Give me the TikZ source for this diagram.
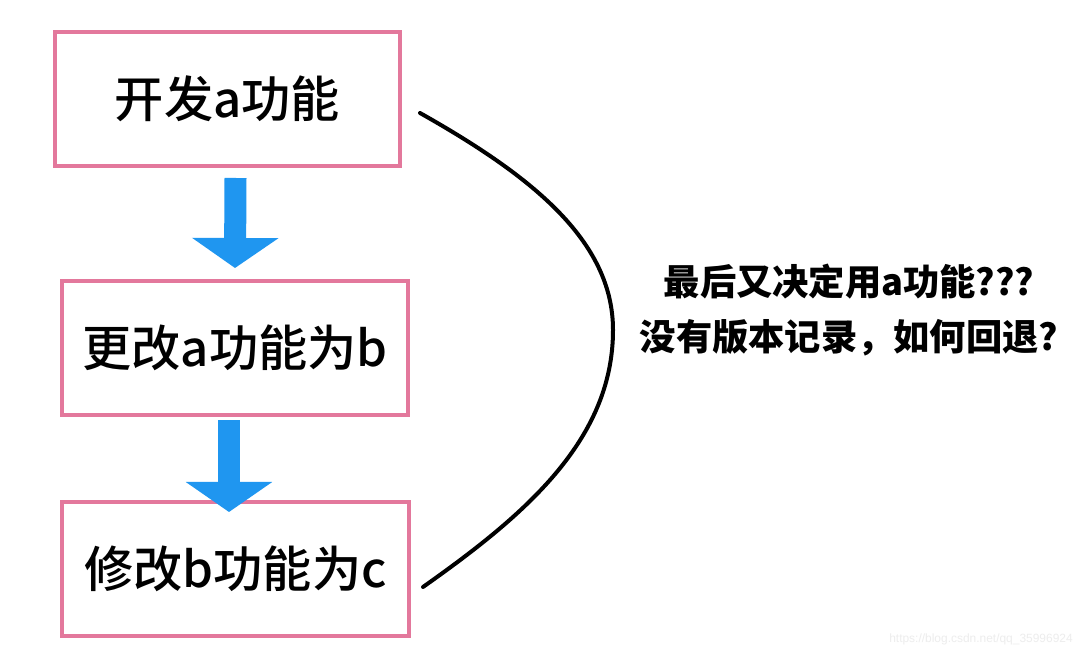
\documentclass[tikz,border=0pt]{standalone}
\usepackage{fontspec}
\setmainfont{Noto Sans CJK SC}
\newfontfamily\boxfont{Noto Sans CJK SC Medium}
\newfontfamily\markfont{Liberation Sans}
\usetikzlibrary{arrows.meta,calc}
\newlength{\du}
\setlength{\du}{0.025cm}

\begin{document}
\begin{tikzpicture}[
  stepbox/.style={draw=boxlinecolor, line width=4.000000\du, fill=white, inner sep=0pt,
    minimum width=345.000000\du, minimum height=134.000000\du, font=\boxfont\fontsize{35}{40}\selectfont},
  downarrow/.style={draw=arrowfillcolor, line width=22.000000\du,
    -{Triangle[width=2.125cm,length=0.75cm]}},
  backcurve/.style={draw=dialinecolor, line width=4.000000\du, line cap=round}]
\pgftransformxscale{1.000000}
\pgftransformyscale{-1.000000}
\definecolor{dialinecolor}{rgb}{0.000000, 0.000000, 0.000000}
\definecolor{boxlinecolor}{rgb}{0.890000, 0.470000, 0.610000}
\definecolor{arrowfillcolor}{rgb}{0.120000, 0.590000, 0.940000}
\definecolor{marktextcolor}{rgb}{0.930000, 0.930000, 0.930000}
\useasboundingbox (0.000000\du,0.000000\du) rectangle (1084.000000\du,655.000000\du);
\fill[white] (0.000000\du,0.000000\du) rectangle (1084.000000\du,655.000000\du);
% the three steps
\node[stepbox] (dev) at (227.500000\du,99.000000\du) {开发a功能};
\node[stepbox, minimum width=346.000000\du] (change) at (235.000000\du,348.000000\du) {更改a功能为b};
\node[stepbox, minimum width=347.000000\du] (modify) at (235.500000\du,569.000000\du) {修改b功能为c};
% blue arrows
\draw[downarrow] ($(dev.south)+(8.000000\du,10.000000\du)$)--($(change.north)+(0.000000\du,-11.000000\du)$);
\draw[downarrow] ($(change.south)+(-6.000000\du,3.000000\du)$)--($(modify.north)+(-6.500000\du,12.000000\du)$);
% curve back to the first step
\coordinate (curvetop) at ($(dev.east)+(18.000000\du,14.000000\du)$);
\coordinate (curvebottom) at ($(modify.east)+(12.000000\du,18.000000\du)$);
\draw[backcurve] (curvetop) .. controls (530.000000\du,175.000000\du) and (613.000000\du,240.000000\du) .. (613.000000\du,330.000000\du) .. controls (613.000000\du,440.000000\du) and (525.000000\du,515.000000\du) .. (curvebottom);
\node[anchor=center, inner sep=0pt, align=center, font=\bfseries\fontsize{25.8}{39}\selectfont] (question) at (849.000000\du,310.000000\du){最后又决定用a功能???\\没有版本记录，如何回退?};
\node[anchor=center, inner sep=0pt, text=marktextcolor, font=\markfont\fontsize{8.5}{10}\selectfont] (watermark) at (981.000000\du,639.000000\du){https://blog.csdn.net/qq\_35996924};
\end{tikzpicture}
\end{document}
